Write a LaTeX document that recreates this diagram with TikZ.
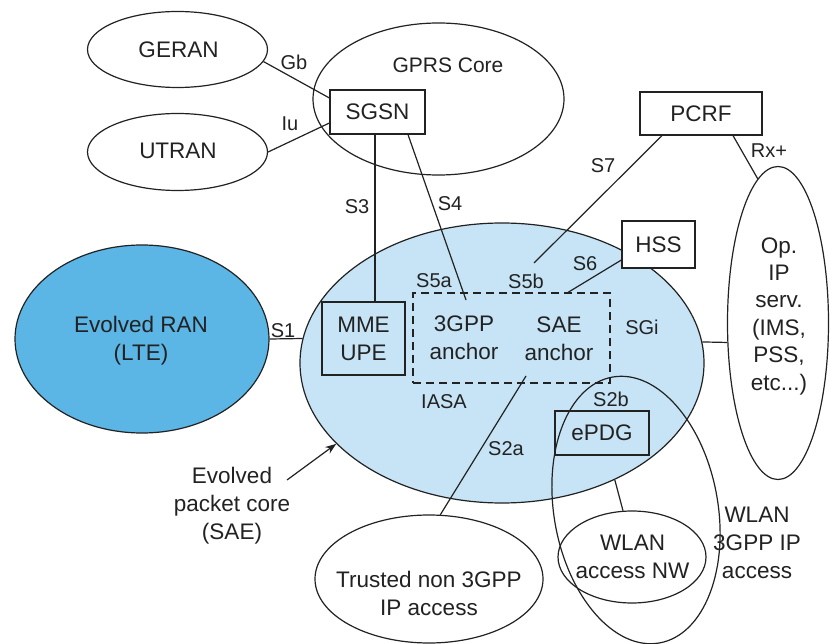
\documentclass[tikz,border=0pt]{standalone}
\usepackage{fontspec}
\setmainfont{Liberation Sans}
\usetikzlibrary{shapes.geometric,arrows.meta}
\definecolor{ranblue}{HTML}{5BB5E5}
\definecolor{epcblue}{HTML}{C6E4F6}
\definecolor{ink}{HTML}{222222}
\newcommand\diagmain{\fontsize{22.5}{28}\selectfont}
\newcommand\diagop{\fontsize{22.5}{27.4}\selectfont}
\newcommand\diaglbl{\fontsize{20}{24}\selectfont}
\begin{document}
\begin{tikzpicture}[x=1pt,y=-1pt,
  area/.style={ellipse,draw=ink,line width=1.2pt,inner sep=0pt},
  boxed/.style={rectangle,draw=ink,line width=1.2pt,inner sep=0pt,font=\diagmain,text=ink,align=center},
  txt/.style={font=\diagmain,text=ink,align=center,inner sep=0pt},
  lbl/.style={font=\diaglbl,text=ink,inner sep=0pt},
  link/.style={draw=ink,line width=1.2pt}]
\useasboundingbox (0,0) rectangle (830,644);
\fill[white] (0,0) rectangle (830,644);

% evolved packet core and radio access
\node[area,fill=epcblue,minimum width=404pt,minimum height=280pt] (epc) at (502,363) {};
\node[area,fill=ranblue,minimum width=254pt,minimum height=188pt] (ran) at (142,339) {};

% surrounding domains
\node[area,minimum width=180pt,minimum height=76pt] (geran) at (177.5,49.5) {};
\node[area,minimum width=180pt,minimum height=77pt] (utran) at (177.5,152) {};
\node[area,minimum width=251pt,minimum height=152pt] (gprs) at (438.5,99) {};
\node[area,minimum width=101pt,minimum height=313pt] (op) at (778,323) {};
\node[area,minimum width=228pt,minimum height=128pt] (trusted) at (429,579) {};
\node[area,minimum width=164pt,minimum height=270pt,rotate=10] (wlan3) at (636,510) {};
\node[area,minimum width=148pt,minimum height=92pt] (wlannw) at (632,557) {};

% functional entities
\node[boxed,fill=white,minimum width=95pt,minimum height=44pt] (sgsn) at (377.5,112) {SGSN};
\node[boxed,fill=white,minimum width=122pt,minimum height=43pt] (pcrf) at (701,113.5) {PCRF};
\node[boxed,fill=white,minimum width=73pt,minimum height=47pt] (hss) at (658.5,244.5) {HSS};
\node[boxed,minimum width=83pt,minimum height=73pt] (mme) at (363.5,338.5) {MME\\UPE};
\node[boxed,minimum width=94pt,minimum height=44pt] (epdg) at (602,433) {ePDG};
\node[rectangle,draw=ink,line width=1.2pt,dash pattern=on 8pt off 5pt,inner sep=0pt,
      minimum width=197pt,minimum height=90pt] (iasa) at (511.5,338) {};

% texts of the areas
\node[txt] (geran-t) at (178.5,49.5) {GERAN};
\node[txt] (utran-t) at (178,151) {UTRAN};
\node[txt,font=\fontsize{21}{26}\selectfont] (gprs-t) at (448,65) {GPRS Core};
\node[txt] (ran-t) at (141,341) {Evolved RAN\\(LTE)};
\node[txt] (gpp-t) at (464,338) {3GPP\\anchor};
\node[txt] (sae-t) at (559,339) {SAE\\anchor};
\node[txt,font=\diagop] (op-t) at (779,316) {Op.\\IP\\serv.\\(IMS,\\PSS,\\etc...)};
\node[txt] (trusted-t) at (429,593.5) {Trusted non 3GPP\\IP access};
\node[txt] (wlannw-t) at (632.5,557) {WLAN\\access NW};
\node[txt] (wlan3-t) at (757,543) {WLAN\\3GPP IP\\access};
\node[txt] (saecore-t) at (232,505.5) {Evolved\\packet core\\(SAE)};

% interface labels
\node[lbl] at (294,62) {Gb};
\node[lbl] at (290,124) {Iu};
\node[lbl] at (357,207) {S3};
\node[lbl] at (450,204) {S4};
\node[lbl] at (603,166) {S7};
\node[lbl] at (769,151) {Rx+};
\node[lbl] at (434,281) {S5a};
\node[lbl] at (526,281) {S5b};
\node[lbl] at (585,264) {S6};
\node[lbl] at (642,327) {SGi};
\node[lbl] at (444,402) {IASA};
\node[lbl] at (506,449) {S2a};
\node[lbl] at (611,399) {S2b};
\node[lbl] at (283,331) {S1};

% free ends of connectors
\coordinate (s4end) at (466,300);
\coordinate (s7end) at (534,263);
\coordinate (s2aend) at (526,376);
\coordinate (saetail) at (287,480);

% interfaces
\draw[link] (geran.-8) -- ([yshift=14pt]sgsn.west);
\draw[link] (utran.east) -- ([yshift=-11pt]sgsn.west);
\draw[link] ([xshift=-2.5pt]sgsn.south) -- ([xshift=-2.5pt]sgsn.south |- mme.north);
\draw[link] ([xshift=30.5pt]sgsn.south) -- (s4end);
\draw[link] ([xshift=-39pt]pcrf.south) -- (s7end);
\draw[link] ([yshift=-15.5pt]hss.west) -- ([xshift=56.5pt]iasa.north);
\draw[link] ([xshift=32pt]pcrf.south) -- (op.98);
\draw[link] (ran.east) -- (epc.173);
\draw[link] (epc.6) -- (op.201);
\draw[link] (trusted.80) -- (s2aend);
\draw[link] (epc.-46) -- (wlannw.101);
\draw[link,-{Stealth[length=11pt,width=8pt]}] (saetail) -- (epc.206);
\end{tikzpicture}
\end{document}
